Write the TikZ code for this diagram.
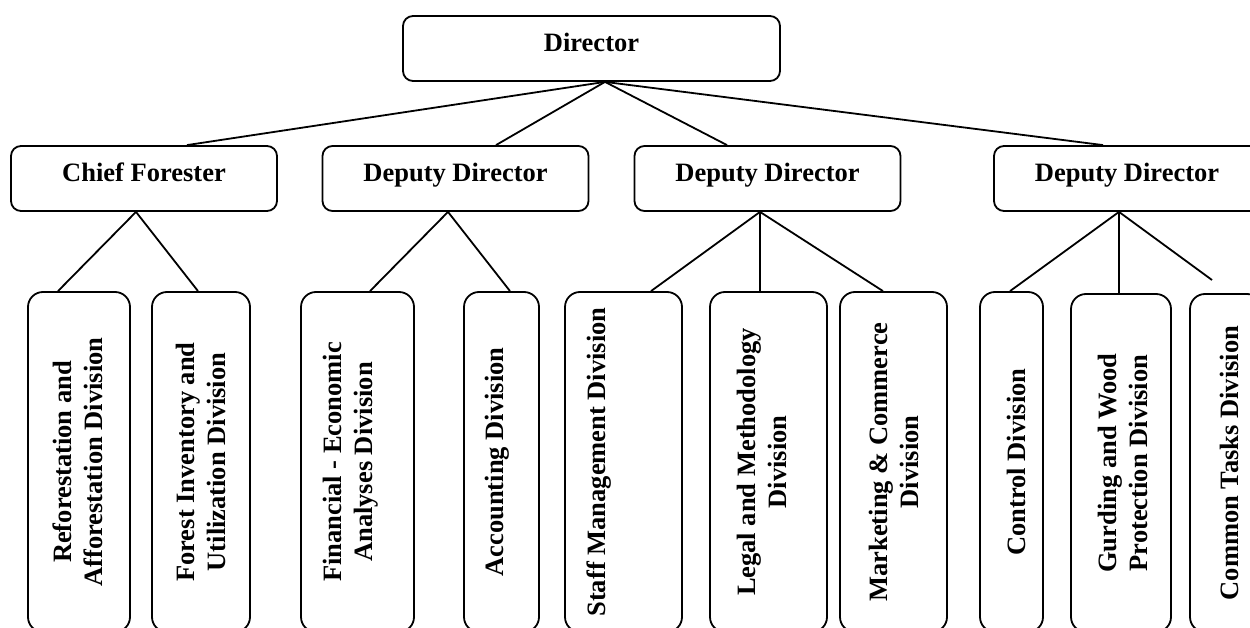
\documentclass[tikz,border=0pt]{standalone}
\usepackage{fontspec}
\setmainfont{Liberation Serif}
\usetikzlibrary{calc}
\begin{document}
\begin{tikzpicture}[x=1pt,y=-1pt,
  labelfont/.style={font=\fontsize{26.5}{31}\selectfont\bfseries},
  headbox/.style={draw, line width=1.8pt, rounded corners=10pt, minimum width=266pt,
    minimum height=65pt, inner sep=0pt, text height=18pt, text depth=11pt, labelfont},
  unitbox/.style={draw, line width=1.8pt, rounded corners=15pt, minimum height=340pt, inner sep=0pt},
  unittext/.style={rotate=90, align=center, inner sep=0pt, labelfont},
  link/.style={line width=1.8pt}]
\useasboundingbox (0,0) rectangle (1250,628);
\clip (0,0) rectangle (1250,628);

% top level
\node[headbox, minimum width=377pt] (dir) at (591.5,48.5) {Director};

% second level
\node[headbox] (chief) at (144,178.5)   {Chief Forester};
\node[headbox] (dep1)  at (455.5,178.5) {Deputy Director};
\node[headbox] (dep2)  at (767.5,178.5) {Deputy Director};
\node[headbox] (dep3)  at (1127,178.5)  {Deputy Director};

% divisions
\node[unitbox, minimum width=102pt] (b1)  at (79,462)    {};
\node[unitbox, minimum width=98pt]  (b2)  at (201,462)   {};
\node[unitbox, minimum width=113pt] (b3)  at (357.5,462) {};
\node[unitbox, minimum width=75pt]  (b4)  at (501.5,462) {};
\node[unitbox, minimum width=117pt] (b5)  at (623.5,462) {};
\node[unitbox, minimum width=117pt] (b6)  at (768.5,462) {};
\node[unitbox, minimum width=107pt] (b7)  at (893.5,462) {};
\node[unitbox, minimum width=63pt]  (b8)  at (1011.5,462) {};
\node[unitbox, minimum width=100pt, minimum height=338pt] (b9)  at (1121,463) {};
\node[unitbox, minimum width=72pt,  minimum height=338pt] (b10) at (1226,463) {};

\node[unittext] (t1)  at ($(b1.center)+(-1.5,0)$) {Reforestation and\\Afforestation Division};
\node[unittext] (t2)  at ($(b2.center)+(0,0)$)    {Forest Inventory and\\Utilization Division};
\node[unittext] (t3)  at ($(b3.center)+(-6.5,0)$) {Financial - Economic\\Analyses Division};
\node[unittext] (t4)  at ($(b4.center)+(-4.5,0)$) {Accounting Division};
\node[unittext] (t5)  at ($(b5.center)+(-24.5,0)$) {Staff Management Division};
\node[unittext] (t6)  at ($(b6.center)+(-6.5,0)$) {Legal and Methodology\\Division};
\node[unittext] (t7)  at ($(b7.center)+(0,0)$)    {Marketing \& Commerce\\Division};
\node[unittext] (t8)  at ($(b8.center)+(4.5,0)$)  {Control Division};
\node[unittext] (t9)  at ($(b9.center)+(2,0)$)    {Gurding and Wood\\Protection Division};
\node[unittext] (t10) at ($(b10.center)+(3,0)$)   {Common Tasks Division};

% junction points
\coordinate (dhub) at ($(dir.south)+(13.5,0)$);
\coordinate (chub) at ($(chief.south)+(-8,0)$);
\coordinate (h1)   at ($(dep1.south)+(-7.5,0)$);
\coordinate (h2)   at ($(dep2.south)+(-7.5,0)$);
\coordinate (h3)   at ($(dep3.south)+(-8,0)$);
\coordinate (loose) at (1212,280);

% links from the director
\draw[link] (dhub) -- ($(chief.north)+(43,0)$);
\draw[link] (dhub) -- ($(dep1.north)+(40.5,0)$);
\draw[link] (dhub) -- ($(dep2.north)+(-40.5,0)$);
\draw[link] (dhub) -- ($(dep3.north)+(-24,0)$);

% links to the divisions
\draw[link] (chub) -- ($(b1.north)+(-21,0)$);
\draw[link] (chub) -- ($(b2.north)+(-3,0)$);
\draw[link] (h1) -- ($(b3.north)+(12.5,0)$);
\draw[link] (h1) -- ($(b4.north)+(8.5,0)$);
\draw[link] (h2) -- ($(b5.north)+(27.5,0)$);
\draw[link] (h2) -- (h2 |- b6.north);
\draw[link] (h2) -- ($(b7.north)+(-10.5,0)$);
\draw[link] (h3) -- ($(b8.north)+(-1.5,0)$);
\draw[link] (h3) -- (h3 |- b9.north);
\draw[link] (h3) -- (loose);
\end{tikzpicture}
\end{document}
